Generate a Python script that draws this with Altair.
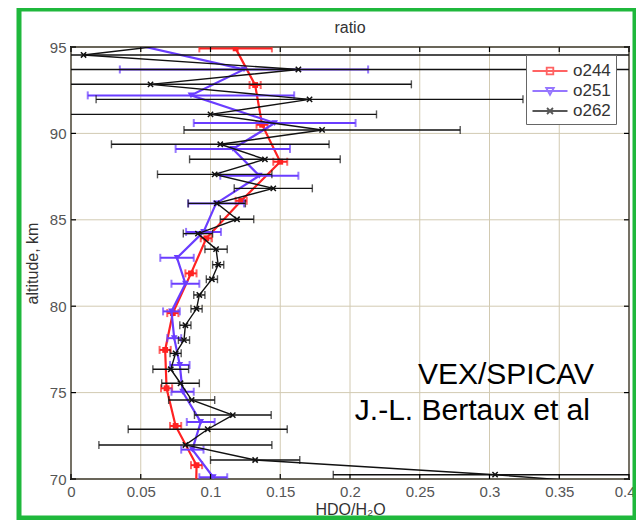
import altair as alt
import pandas as pd

# ---------------- data ----------------
series_names = ["o244", "o251", "o262"]
series_colors = ["#ff2222", "#6a3dff", "#111111"]

red_alt = [94.92, 92.8, 90.5, 88.36, 86.1, 83.93, 81.9, 79.6, 77.47, 75.25, 73.07, 70.8, 68.6]
red_val = [0.118, 0.132, 0.137, 0.150, 0.122, 0.097, 0.086, 0.073, 0.0675, 0.0685, 0.075, 0.090, 0.0895]
red_err = [0.026, 0.004, 0.004, 0.005, 0.004, 0.004, 0.004, 0.004, 0.004, 0.004, 0.004, 0.004, 0.004]

blue_alt = [95.25, 93.7, 92.2, 90.6, 89.1, 87.55, 85.95, 84.3, 82.8, 81.3, 79.7, 78.15, 76.6, 75.05, 73.3, 71.7, 70.1]
blue_val = [0.040, 0.124, 0.086, 0.146, 0.116, 0.135, 0.104, 0.095, 0.076, 0.082, 0.072, 0.074, 0.078, 0.080, 0.093, 0.087, 0.102]
blue_err = [0.05, 0.089, 0.074, 0.058, 0.041, 0.028, 0.020, 0.0125, 0.012, 0.010, 0.006, 0.005, 0.007, 0.008, 0.010, 0.008, 0.010]

black_alt = [95.4, 94.54, 93.7, 92.84, 91.97, 91.1, 90.2, 89.37, 88.5, 87.63, 86.82, 85.95, 85.03,
             84.2, 83.3, 82.4, 81.56, 80.65, 79.85, 78.9, 78.04, 77.27, 76.35, 75.54, 74.57,
             73.7, 72.88, 71.97, 71.1, 70.25, 69.4]
black_val = [0.10, 0.009, 0.163, 0.057, 0.171, 0.100, 0.180, 0.107, 0.139, 0.103, 0.145, 0.1045, 0.119,
             0.091, 0.104, 0.1055, 0.101, 0.092, 0.090, 0.082, 0.081, 0.075, 0.0715, 0.0785, 0.0865,
             0.116, 0.098, 0.082, 0.132, 0.304, 0.44]
black_err = [0.30, 0.45, 0.45, 0.187, 0.153, 0.119, 0.099, 0.078, 0.054, 0.041, 0.028, 0.0205, 0.012,
             0.0105, 0.008, 0.004, 0.004, 0.004, 0.004, 0.004, 0.004, 0.004, 0.0128, 0.0135, 0.0165,
             0.0275, 0.057, 0.062, 0.032, 0.116, 0.1]

x_ticks = [0, 0.05, 0.1, 0.15, 0.2, 0.25, 0.3, 0.35, 0.4]
y_ticks = [70, 75, 80, 85, 90, 95]

chart_title = "ratio"
note_text = ["VEX/SPICAV", "J.-L. Bertaux et al"]
note_x = [0.375, 0.372]
note_y = [75.5, 73.4]

# ---------------- build ----------------
FONT = "Liberation Sans"
W, H = 558, 432
GREEN = "#1fb83c"
GRID = "#d2cab2"

xscale = alt.Scale(domain=[0, 0.4], nice=False, zero=False)
yscale = alt.Scale(domain=[70, 95], nice=False, zero=False)

axis_style = dict(ticks=False, domain=False, grid=False, labelOverlap=False, labelFlush=False,
                  labelFont=FONT, labelFontSize=15, labelColor="#555",
                  titleFont=FONT, titleFontSize=16, titleColor="#333", titleFontWeight="normal")
xaxis = alt.Axis(title="HDO/H₂O", values=x_ticks, format="~g", labelPadding=5,
                 titlePadding=2,
                 labelAlign={"expr": "datum.value >= 0.4 ? 'right' : 'center'"},
                 labelOffset={"expr": "datum.value >= 0.4 ? 6 : 0"},
                 **axis_style)
yaxis = alt.Axis(title="altitude, km", values=y_ticks, labelPadding=5, titlePadding=9,
                 **axis_style)


def X(field):
    return alt.X(field, scale=xscale, axis=xaxis)


def Y(field):
    return alt.Y(field, scale=yscale, axis=yaxis)


def frame(alts, vals, errs, name):
    return pd.DataFrame({"alt": alts, "v": vals, "e": errs,
                         "i": list(range(len(alts))), "series": name})


layers = []

# light grid lines at the tick values
xt = alt.Chart(pd.DataFrame({"t": x_ticks}))
yt = alt.Chart(pd.DataFrame({"t": y_ticks}))
grid_style = dict(color=GRID, strokeWidth=1)
layers += [
    xt.mark_rule(**grid_style).encode(x=X("t:Q")),
    yt.mark_rule(**grid_style).encode(y=Y("t:Q")),
]

# legend symbols: a line segment with the series marker
legend_paths = ["M-1.75,0H1.75M-0.33,-0.33H0.33V0.33H-0.33Z",
                "M-1.75,0H1.75M-0.38,-0.3H0.38L0,0.38Z",
                "M-1.75,0H1.75M-0.3,-0.3L0.3,0.3M-0.3,0.3L0.3,-0.3"]

legend = alt.Legend(title=None, orient="none", legendX=455, legendY=8,
                    fillColor="white", strokeColor="#666", padding=5,
                    labelFont=FONT, labelFontSize=17, labelColor="#333",
                    symbolSize=400, symbolOffset=8, labelOffset=12, rowPadding=1,
                    symbolStrokeWidth=1.8, symbolFillColor="transparent")

specs = [
    (red_alt, red_val, red_err, "o244", series_colors[0], 2.2, 2.0, "square", 34, True),
    (blue_alt, blue_val, blue_err, "o251", series_colors[1], 2.2, 2.0, "triangle-down", 45, True),
    (black_alt, black_val, black_err, "o262", series_colors[2], 1.4, 1.4,
     "M-1,-1L1,1M-1,1L1,-1", 28, False),
]

for (a, v, e, name, col, lw, ew, shp, sz, filled) in specs:
    base = alt.Chart(frame(a, v, e, name)).transform_calculate(
        lo="datum.v - datum.e", hi="datum.v + datum.e")
    line = base.mark_line(clip=True, strokeWidth=lw, color=col).encode(
        x=X("v:Q"), y=Y("alt:Q"), order="i:Q")
    bars = base.mark_rule(clip=True, strokeWidth=ew, color=col).encode(
        x=X("lo:Q"), x2="hi:Q", y=Y("alt:Q"))
    cap_lo = base.mark_tick(clip=True, orient="vertical", size=8, thickness=ew, color=col).encode(
        x=X("lo:Q"), y=Y("alt:Q"))
    cap_hi = base.mark_tick(clip=True, orient="vertical", size=8, thickness=ew, color=col).encode(
        x=X("hi:Q"), y=Y("alt:Q"))
    if filled:
        pts = base.mark_point(clip=True, shape=shp, size=sz, filled=True, opacity=1, color=col)
    else:
        pts = base.mark_point(clip=True, shape=shp, size=sz, filled=False, opacity=1,
                              strokeWidth=1.5, color=col)
    pts = pts.encode(x=X("v:Q"), y=Y("alt:Q"))
    layers += [line, bars, cap_lo, cap_hi, pts]

# legend-only layer (no rows, explicit domains)
leg_layer = alt.Chart(pd.DataFrame({"series": pd.Series([], dtype=str)})).mark_point(
    filled=False, size=400, strokeWidth=1.8).encode(
    color=alt.Color("series:N", scale=alt.Scale(domain=series_names, range=series_colors),
                    legend=legend),
    shape=alt.Shape("series:N", scale=alt.Scale(domain=series_names, range=legend_paths),
                    legend=legend))
layers.append(leg_layer)

# inward ticks on all four sides
tick_style = dict(color="black", strokeWidth=1.2)
layers += [
    xt.mark_rule(**tick_style).encode(x=X("t:Q"), y=alt.value(H), y2=alt.value(H - 5)),
    xt.mark_rule(**tick_style).encode(x=X("t:Q"), y=alt.value(0), y2=alt.value(5)),
    yt.mark_rule(**tick_style).encode(y=Y("t:Q"), x=alt.value(0), x2=alt.value(5)),
    yt.mark_rule(**tick_style).encode(y=Y("t:Q"), x=alt.value(W), x2=alt.value(W - 5)),
]

notes = alt.Chart(pd.DataFrame({"txt": note_text, "x": note_x, "y": note_y})).mark_text(
    align="right", baseline="alphabetic", font=FONT, fontSize=30, color="black").encode(
    x=X("x:Q"), y=Y("y:Q"), text="txt:N")
layers.append(notes)

# chart title above the plot
title = alt.Chart(pd.DataFrame({"txt": [chart_title]})).mark_text(
    align="center", baseline="alphabetic", font=FONT, fontSize=16, color="#333").encode(
    x=alt.value(W / 2), y=alt.value(-14), text="txt:N")
layers.append(title)

# green slide frame
green = alt.Chart(pd.DataFrame({"d": [0]})).mark_rect(
    fillOpacity=0, stroke=GREEN, strokeWidth=5).encode(
    x=alt.value(-52), x2=alt.value(564), y=alt.value(-38), y2=alt.value(471))
layers.append(green)

chart = alt.layer(*layers).properties(
    width=W, height=H,
    padding={"left": 63, "top": 39, "right": 7, "bottom": 41},
    autosize=alt.AutoSizeParams(type="none"),
    background="white",
).configure_view(stroke="black", strokeWidth=1.8)

chart.save("out.html", embed_options={"renderer": "svg", "actions": False})
